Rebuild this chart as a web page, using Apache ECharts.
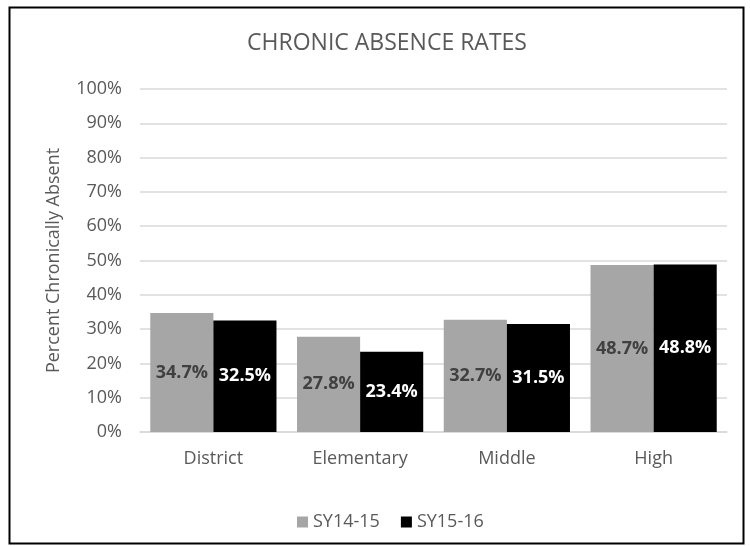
<!DOCTYPE html>
<html><head><meta charset="utf-8">
<script src="https://cdn.jsdelivr.net/npm/echarts@6/dist/echarts.min.js"></script>
<style>html,body{margin:0;padding:0;background:#fff}#c{width:750px;height:546px}</style>
</head><body><div id="c"></div>
<script>
const categories = ['District', 'Elementary', 'Middle', 'High'];
const sy1415 = [34.7, 27.8, 32.7, 48.7];
const sy1516 = [32.5, 23.4, 31.5, 48.8];
const yTicks = [0, 10, 20, 30, 40, 50, 60, 70, 80, 90, 100];

const font = '"Open Sans", "Liberation Sans", sans-serif';
const chart = echarts.init(document.getElementById('c'));
chart.setOption({
  animation: false,
  backgroundColor: '#fff',
  graphic: [{
    type: 'rect', left: 7, top: 5,
    shape: { width: 734, height: 536 },
    style: { fill: 'none', stroke: '#000', lineWidth: 2 }
  }],
  title: {
    text: 'CHRONIC ABSENCE RATES', left: 382, top: 27, textAlign: 'center',
    textStyle: { fontFamily: font, fontSize: 23, fontWeight: 'normal', color: '#595959' }
  },
  legend: {
    top: 508, left: 292, itemWidth: 11, itemHeight: 11, itemGap: 21,
    icon: 'rect',
    textStyle: { fontFamily: font, fontSize: 18, color: '#595959' },
    data: ['SY14-15', 'SY15-16']
  },
  grid: { left: 140, right: 23, top: 89, bottom: 114 },
  xAxis: {
    type: 'category', data: categories,
    axisTick: { show: false },
    axisLine: { lineStyle: { color: '#d9d9d9', width: 1.5 } },
    axisLabel: { fontFamily: font, fontSize: 18, color: '#595959', margin: 18 }
  },
  yAxis: {
    type: 'value', min: 0, max: 100, interval: 10,
    name: 'Percent Chronically Absent', nameLocation: 'middle', nameGap: 77,
    nameTextStyle: { fontFamily: font, fontSize: 18, color: '#595959' },
    axisLabel: {
      fontFamily: font, fontSize: 18, color: '#595959', margin: 18,
      formatter: v => (yTicks.includes(v) ? v + '%' : '')
    },
    splitLine: { lineStyle: { color: '#d9d9d9', width: 1.5 } }
  },
  series: [{
    name: 'SY14-15', type: 'bar', data: sy1415, barGap: '0%', barCategoryGap: '14%',
    itemStyle: { color: '#a6a6a6' },
    label: { show: true, position: 'inside', formatter: p => p.value.toFixed(1) + '%',
      fontFamily: font, fontSize: 18, fontWeight: 'bold', color: '#404040' }
  }, {
    name: 'SY15-16', type: 'bar', data: sy1516, barGap: '0%', barCategoryGap: '14%',
    itemStyle: { color: '#000000' },
    label: { show: true, position: 'inside', formatter: p => p.value.toFixed(1) + '%',
      fontFamily: font, fontSize: 18, fontWeight: 'bold', color: '#ffffff' }
  }]
});
</script></body></html>
